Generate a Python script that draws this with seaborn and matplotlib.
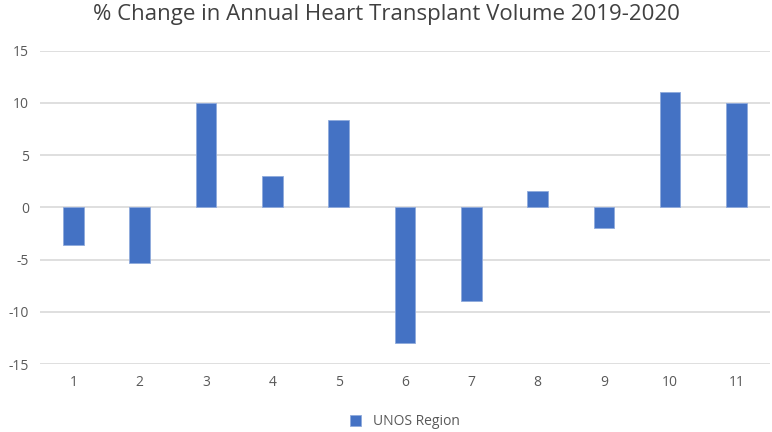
import seaborn as sns
import matplotlib.pyplot as plt
import pandas as pd

regions = ["1", "2", "3", "4", "5", "6", "7", "8", "9", "10", "11"]
pct_change = [-3.6, -5.3, 10.0, 3.0, 8.4, -13.0, -9.0, 1.6, -2.0, 11.0, 10.0]

df = pd.DataFrame({"region": regions, "change": pct_change})

sns.set_style("white")
plt.rcParams['font.family'] = ['Open Sans', 'DejaVu Sans']
plt.rcParams['axes.unicode_minus'] = False

fig = plt.figure(figsize=(7.72, 4.32), dpi=100)
ax = fig.add_axes([0.052, 0.157, 0.945, 0.726])

sns.barplot(data=df, x="region", y="change", color="#4472C4", width=0.31,
            saturation=1, label="UNOS Region", ax=ax, zorder=3,
            edgecolor="#8FAADC", linewidth=0.6)

ax.set_ylim(-15, 15)
ax.set_yticks(range(-15, 16, 5))
ax.yaxis.grid(True, color="#D9D9D9", linewidth=1.2, zorder=0)
ax.set_axisbelow(True)
sns.despine(ax=ax, left=True, bottom=True, top=True, right=True)
ax.tick_params(axis="both", length=0, labelsize=10, colors="#595959", pad=8)
ax.set_xlabel("")
ax.set_ylabel("")

fig.suptitle("% Change in Annual Heart Transplant Volume 2019-2020",
             fontsize=16, color="#404040", y=0.99)

ax.legend(loc="upper center", bbox_to_anchor=(0.5, -0.12), frameon=False,
          fontsize=10, labelcolor="#595959", handlelength=0.8, handleheight=0.8)

fig.savefig("out.png", dpi=100)
